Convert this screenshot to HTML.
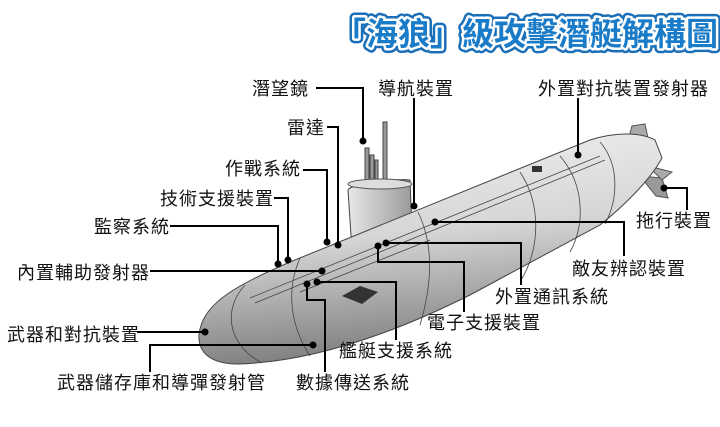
<!DOCTYPE html>
<html><head><meta charset="utf-8"><style>
html,body{margin:0;padding:0;background:#fff;}
svg{display:block;}
text{font-family:"Liberation Sans","Noto Sans CJK TC",sans-serif;}
.l{font-size:18px;letter-spacing:1px;fill:#111;}
.ln{stroke:#000;stroke-width:2;fill:none;}
</style></head><body>
<svg width="720" height="427" viewBox="0 0 720 427" xmlns="http://www.w3.org/2000/svg">
<defs>
<linearGradient id="hull" x1="0" y1="0" x2="0.2" y2="1">
<stop offset="0" stop-color="#f2f2f2"/><stop offset="0.5" stop-color="#d6d6d6"/><stop offset="1" stop-color="#7e7e7e"/>
</linearGradient>
<linearGradient id="sail" x1="0" y1="0" x2="1" y2="0">
<stop offset="0" stop-color="#e8e8e8"/><stop offset="1" stop-color="#9a9a9a"/>
</linearGradient>
</defs>
<g font-size="32" font-weight="bold">
<text x="334" y="45" fill="none" stroke="#1a6fb8" stroke-width="10" stroke-linejoin="round">「海狼」級攻擊潛艇解構圖</text>
<text x="334" y="45" fill="none" stroke="#fff" stroke-width="5" stroke-linejoin="round">「海狼」級攻擊潛艇解構圖</text>
<text x="334" y="45" fill="#1a7cc8">「海狼」級攻擊潛艇解構圖</text>
</g>
<path d="M628 140 L632 126 L645 124 L648 138 Z" fill="#aaa" stroke="#555"/>
<path d="M640 176 L662 178 L668 198 L656 196 Z" fill="#999" stroke="#555"/>
<path d="M648 166 L672 172 L662 180 Z" fill="#aaa" stroke="#555"/>
<g fill="#999" stroke="#444" stroke-width="1">
<rect x="383" y="122" width="4" height="70"/>
<rect x="365" y="148" width="4" height="45"/>
<rect x="370" y="155" width="4" height="40"/>
<rect x="375" y="160" width="3" height="35"/>
</g>
<path d="M348 190 C350 184 395 178 410 180 L412 230 L352 250 Z" fill="url(#sail)" stroke="#444"/>
<ellipse cx="380" cy="184" rx="32" ry="5" fill="#ddd" stroke="#555"/>
<path d="M199 335 C202 302 240 284 290 262 L590 140 C615 132 640 132 655 140 L662 158 C650 180 625 205 600 225 L470 295 C390 335 310 362 238 364 C210 364 198 352 199 335 Z" fill="url(#hull)" stroke="#444" stroke-width="1"/>
<g stroke="#444" stroke-width="0.8" fill="none">
<path d="M245 285 C222 310 228 345 262 363"/>
<path d="M300 258 C286 290 290 325 310 356"/>
<path d="M418 212 C434 245 432 285 420 325"/>
<path d="M520 172 C542 205 540 250 520 282"/>
<path d="M560 156 C585 185 585 225 570 252"/>
<path d="M600 142 C620 165 618 200 605 224"/>
<path d="M250 298 L600 156"/>
<path d="M255 303 L605 160"/>
<path d="M300 292 L430 240"/>
</g>
<path d="M342 296 L360 286 L378 292 L362 304 Z" fill="#333"/>
<rect x="532" y="166" width="10" height="6" fill="#333"/>
<g class="ln">
<path d="M316 88 H363 V141"/>
<path d="M414 98 V206"/>
<path d="M578 98 V155"/>
<path d="M327 127 H338 V245"/>
<path d="M303 170 H327 V242"/>
<path d="M274 198 H288 V260"/>
<path d="M170 226 H278 V264"/>
<path d="M150 271 H322"/>
<path d="M137 332 H205"/>
<path d="M150 372 V345 H313"/>
<path d="M307 284 V300 H325 V372"/>
<path d="M317 282 H396 V340"/>
<path d="M378 246 V262 H464 V312"/>
<path d="M386 243 H521 V285"/>
<path d="M435 222 H624 V256"/>
<path d="M664 188 H687 V210"/>
</g>
<g fill="#000">
<circle cx="363" cy="141" r="3.5"/><circle cx="414" cy="206" r="3.5"/><circle cx="578" cy="155" r="3.5"/>
<circle cx="338" cy="245" r="3.5"/><circle cx="327" cy="242" r="3.5"/><circle cx="288" cy="260" r="3.5"/>
<circle cx="278" cy="264" r="3.5"/><circle cx="322" cy="271" r="3.5"/><circle cx="205" cy="332" r="3.5"/>
<circle cx="313" cy="345" r="3.5"/><circle cx="307" cy="284" r="3.5"/><circle cx="317" cy="282" r="3.5"/>
<circle cx="378" cy="246" r="3.5"/><circle cx="386" cy="243" r="3.5"/><circle cx="435" cy="222" r="3.5"/>
<circle cx="664" cy="188" r="3.5"/>
</g>
<g class="l">
<text x="252" y="95">潛望鏡</text>
<text x="378" y="95">導航裝置</text>
<text x="538" y="95">外置對抗裝置發射器</text>
<text x="287" y="134">雷達</text>
<text x="225" y="175">作戰系統</text>
<text x="160" y="205">技術支援裝置</text>
<text x="94" y="233">監察系統</text>
<text x="17" y="279">內置輔助發射器</text>
<text x="7" y="341">武器和對抗裝置</text>
<text x="57" y="389">武器儲存庫和導彈發射管</text>
<text x="296" y="389">數據傳送系統</text>
<text x="339" y="357">艦艇支援系統</text>
<text x="427" y="329">電子支援裝置</text>
<text x="495" y="303">外置通訊系統</text>
<text x="572" y="275">敵友辨認裝置</text>
<text x="636" y="227">拖行裝置</text>
</g>
</svg>
</body></html>
